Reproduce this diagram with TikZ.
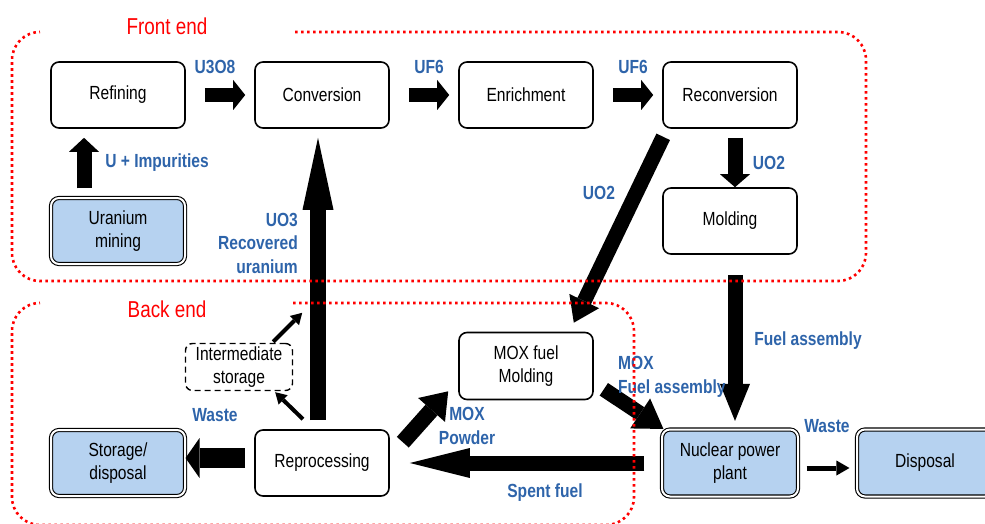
\documentclass[tikz,border=0pt]{standalone}
\usepackage{fontspec}
\setmainfont{Liberation Sans}[FakeStretch=0.82]
\usetikzlibrary{arrows.meta,calc}
\definecolor{lblue}{RGB}{46,100,170}
\definecolor{boxblue}{RGB}{182,210,240}
\definecolor{dotred}{RGB}{255,0,0}
\begin{document}
\begin{tikzpicture}[x=1pt,y=-1pt,
  box/.style={draw, line width=1.6pt, rounded corners=8pt, minimum width=134pt, minimum height=66pt, inner sep=2pt, align=center, font=\fontsize{19}{23}\selectfont},
  dbox/.style={box, fill=boxblue, double, double distance=2pt, line width=1.1pt, minimum width=134pt, minimum height=66pt},
  dashbox/.style={draw, line width=1.4pt, dash pattern=on 6pt off 4pt, rounded corners=7pt, minimum width=107pt, minimum height=47pt, inner sep=1pt, align=center, font=\fontsize{19}{23}\selectfont},
  lbl/.style={text=lblue, font=\bfseries\fontsize{19}{23.5}\selectfont, inner sep=0pt},
  phase/.style={draw=dotred, line width=2.6pt, dash pattern=on 2.6pt off 3.4pt, rounded corners=28pt},
  phaselbl/.style={text=dotred, font=\fontsize{23}{26}\selectfont, inner sep=0pt},
  fat/.style n args={3}{line width=#1, -{Triangle[width=#2,length=#3,line width=0pt]}},
  slim/.style={line width=4pt, -{Triangle[width=13pt,length=11pt,line width=0pt]}}
]
\useasboundingbox (0,0) rectangle (985,524);
\clip (0,0) rectangle (985,524);

% nodes
\node[box] (refining) at (118,95) {Refining};
\node[box] (conversion) at (322,95) {Conversion};
\node[box] (enrichment) at (526,95) {Enrichment};
\node[box] (reconversion) at (730,95) {Reconversion};
\node[box] (molding) at (730,221) {Molding};
\node[dbox] (umining) at (118,231) {Uranium\\mining};
\node[dbox] (storage) at (118,463) {Storage/\\disposal};
\node[box] (reprocessing) at (322,463) {Reprocessing};
\node[dashbox] (interm) at (239,367) {Intermediate\\storage};
\node[box, minimum height=67pt] (mox) at (526,366) {MOX fuel\\Molding};
\node[dbox, minimum width=136pt, minimum height=67pt] (npp) at (730,463) {Nuclear power\\plant};
\node[dbox, minimum width=136pt, minimum height=67pt] (disposal) at (925,463) {Disposal};

% block arrows
\draw[fat={14pt}{30pt}{12pt}] ($(refining.east)+(19,0)$) -- ($(conversion.west)+(-9,0)$);
\draw[fat={14pt}{30pt}{12pt}] ($(conversion.east)+(19,0)$) -- ($(enrichment.west)+(-9,0)$);
\draw[fat={14pt}{30pt}{12pt}] ($(enrichment.east)+(19,0)$) -- ($(reconversion.west)+(-9,0)$);
\draw[fat={15pt}{30pt}{13pt}] ($(reconversion.south)+(5,9)$) -- ($(molding.north)+(5,0)$);
\draw[fat={15pt}{30pt}{14pt}] ($(umining.north)+(-34,-9)$) -- ($(refining.south)+(-34,9)$);
\draw[fat={16pt}{31pt}{72pt}] ($(reprocessing.north)+(-4,-9)$) -- ($(conversion.south)+(-4,9)$);
\draw[fat={15pt}{33pt}{24pt}] ($(reconversion.south west)+(1,8)$) -- ($(mox.north east)+(-20,-9)$);
\draw[fat={15pt}{36pt}{28pt}] ($(mox.south east)+(10,-11)$) -- ($(npp.north west)+(2,0)$);
\draw[fat={15pt}{30pt}{37pt}] ($(molding.south)+(5,20)$) -- ($(npp.north)+(5,-8)$);
\draw[fat={15pt}{30pt}{60pt}] ($(npp.west)+(-17,0)$) -- ($(reprocessing.east)+(20,0)$);
\draw[fat={20pt}{40pt}{14pt}] ($(reprocessing.west)+(-9,-5)$) -- ($(storage.east)+(0,-5)$);
\draw[fat={16pt}{36pt}{25pt}] ($(reprocessing.north east)+(13,13)$) -- ($(mox.south west)+(-10,-9)$);

% thin arrows
\draw[slim] ($(reprocessing.north)+(-19,-10)$) -- ($(interm.south east)+(-18,1)$);
\coordinate (recycle) at ($(interm.north east)+(9,-30)$);
\draw[slim] ($(interm.north east)+(-20,-1)$) -- (recycle);
\draw[line width=5pt, -{Triangle[width=15pt,length=13pt,line width=0pt]}] ($(npp.east)+(8,5)$) -- ($(disposal.west)+(-7,5)$);

% labels
\node[lbl] at (215,67) {U3O8};
\node[lbl] at (429,67) {UF6};
\node[lbl] at (633,67) {UF6};
\node[lbl] at (157,163) {U + Impurities};
\node[lbl, anchor=east, align=right] at (298,243) {UO3\\Recovered\\uranium};
\node[lbl] at (769,163) {UO2};
\node[lbl] at (599,193) {UO2};
\node[lbl] at (808,341) {Fuel assembly};
\node[lbl, anchor=west, align=left] at (618,377) {MOX\\Fuel assembly};
\node[lbl] at (215,415) {Waste};
\node[lbl, align=center] at (467,426) {MOX\\Powder};
\node[lbl] at (545,493) {Spent fuel};
\node[lbl] at (827,426) {Waste};

% phase frames
\draw[phase] (295,32) -- (866,32) -- (866,281) -- (12,281) -- (12,32) -- (40,32);
\draw[phase] (293,303) -- (634,303) -- (634,525) -- (12,525) -- (12,303) -- (40,303);
\node[phaselbl] (frontend) at (167,26) {Front end};
\node[phaselbl] (backend) at (167,309) {Back end};
\end{tikzpicture}
\end{document}
